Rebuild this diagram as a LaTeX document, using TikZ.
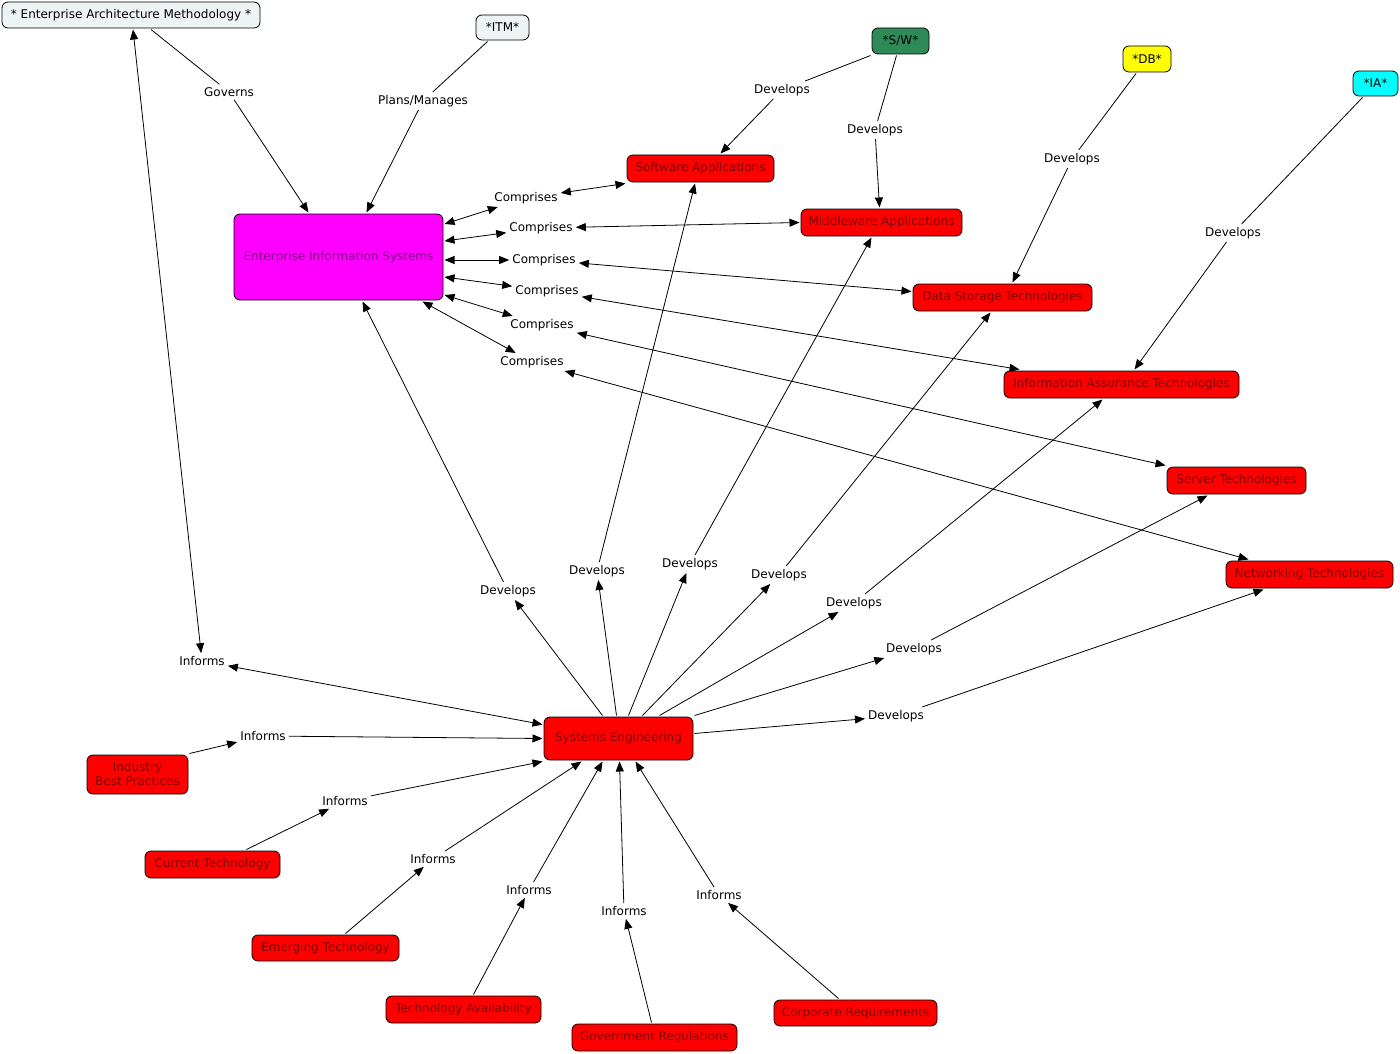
\documentclass[tikz,border=0pt]{standalone}
\usepackage{fontspec}
\setmainfont{DejaVu Sans}
\usetikzlibrary{arrows.meta}
\definecolor{eamfill}{HTML}{EEF4F4}
\definecolor{swfill}{HTML}{2E8B57}
\definecolor{dbfill}{HTML}{FFFF00}
\definecolor{iafill}{HTML}{00FFFF}
\definecolor{cmred}{HTML}{FF0000}
\definecolor{cmdkred}{HTML}{800000}
\definecolor{cmmag}{HTML}{FF00FF}
\definecolor{cmdkmag}{HTML}{800080}
\newcommand\cmfont{\fontsize{12}{15}\selectfont}
\tikzset{
  box/.style={draw=black, line width=0.8pt, rounded corners=6pt, font=\cmfont, inner xsep=2pt, inner ysep=2pt, outer sep=1.5pt, align=center},
  redbox/.style={box, fill=cmred, text=cmdkred},
  lab/.style={font=\cmfont, inner sep=3pt, text=black},
  ln/.style={line width=0.8pt},
  arr/.style={ln, -{Triangle[length=10pt,width=8pt]}},
  barr/.style={ln, {Triangle[length=10pt,width=8pt]}-{Triangle[length=10pt,width=8pt]}},
}
\begin{document}
\begin{tikzpicture}[x=1pt,y=-1pt]
\useasboundingbox (0,0) rectangle (1400,1054);
% top nodes
\node[box, fill=eamfill, minimum width=258pt, minimum height=26pt] (eam) at (131,15) {* Enterprise Architecture Methodology *};
\node[box, fill=eamfill, minimum width=53pt, minimum height=25pt] (itm) at (502.5,27.5) {*ITM*};
\node[box, fill=swfill, minimum width=57pt, minimum height=26pt] (sw) at (900.5,41) {*S/W*};
\node[box, fill=dbfill, minimum width=48pt, minimum height=26pt] (db) at (1147,59) {*DB*};
\node[box, fill=iafill, minimum width=45pt, minimum height=25pt] (ia) at (1375.5,83.5) {*IA*};
% main
\node[box, fill=cmmag, text=cmdkmag, minimum width=209pt, minimum height=86pt] (eis) at (338.5,257) {Enterprise Information Systems};
\node[redbox, minimum width=147pt, minimum height=27pt] (sa) at (700.5,168.5) {Software Applications};
\node[redbox, minimum width=161pt, minimum height=27pt] (mw) at (881.5,222.5) {Middleware Applications};
\node[redbox, minimum width=179pt, minimum height=27pt] (ds) at (1002.5,297.5) {Data Storage Technologies};
\node[redbox, minimum width=235pt, minimum height=27pt] (iat) at (1121.5,384.5) {Information Assurance Technologies};
\node[redbox, minimum width=139pt, minimum height=27pt] (srv) at (1236.5,480.5) {Server Technologies};
\node[redbox, minimum width=167pt, minimum height=27pt] (net) at (1309.5,574.5) {Networking Technologies};
\node[redbox, minimum width=149pt, minimum height=43pt] (se) at (618.5,738.5) {Systems Engineering};
\node[redbox, minimum width=101pt, minimum height=39pt, inner ysep=1pt] (ind) at (137.5,774.5) {Industry\\[-1pt]Best Practices};
\node[redbox, minimum width=135pt, minimum height=27pt] (ct) at (212.5,864.5) {Current Technology};
\node[redbox, minimum width=147pt, minimum height=26pt] (et) at (325.5,948) {Emerging Technology};
\node[redbox, minimum width=155pt, minimum height=27pt] (ta) at (463.5,1009.5) {Technology Availability};
\node[redbox, minimum width=165pt, minimum height=27pt] (govr) at (654.5,1037.5) {Government Regulations};
\node[redbox, minimum width=163pt, minimum height=26pt] (corp) at (855.5,1013) {Corporate Requirements};
% labels
\node[lab] (govl) at (229,92) {Governs};
\node[lab] (plan) at (423,101) {Plans/Manages};
\node[lab] (swd1) at (782,90) {Develops};
\node[lab] (swd2) at (875,130) {Develops};
\node[lab] (dbd) at (1072,159) {Develops};
\node[lab] (iad) at (1233,233) {Develops};
\node[lab] (c1) at (526,198) {Comprises};
\node[lab] (c2) at (541,228) {Comprises};
\node[lab] (c3) at (544,260) {Comprises};
\node[lab] (c4) at (547,291) {Comprises};
\node[lab] (c5) at (542,325) {Comprises};
\node[lab] (c6) at (532,362) {Comprises};
\node[lab] (d1) at (508,591) {Develops};
\node[lab] (d2) at (597,571) {Develops};
\node[lab] (d3) at (690,564) {Develops};
\node[lab] (d4) at (779,575) {Develops};
\node[lab] (d5) at (854,603) {Develops};
\node[lab] (d6) at (914,649) {Develops};
\node[lab] (d7) at (896,716) {Develops};
\node[lab] (i1) at (202,661) {Informs};
\node[lab] (i2) at (263,736) {Informs};
\node[lab] (i3) at (345,801) {Informs};
\node[lab] (i4) at (433,859) {Informs};
\node[lab] (i5) at (529,890) {Informs};
\node[lab] (i6) at (624,911) {Informs};
\node[lab] (i7) at (719,895) {Informs};
% connectors: top
\draw[ln] ([xshift=20pt]eam.south) -- (govl);
\draw[arr] (govl) -- ([xshift=-30pt]eis.north);
\draw[ln] ([xshift=-15pt]itm.south) -- (plan);
\draw[arr] (plan) -- ([xshift=28pt]eis.north);
\draw[ln] (sw.south west) -- (swd1);
\draw[arr] (swd1) -- ([xshift=20pt]sa.north);
\draw[ln] ([xshift=-4pt]sw.south) -- (swd2);
\draw[arr] (swd2) -- ([xshift=-2pt]mw.north);
\draw[ln] ([xshift=-11pt]db.south) -- (dbd);
\draw[arr] (dbd) -- ([xshift=10pt]ds.north);
\draw[ln] ([xshift=-13pt]ia.south) -- (iad);
\draw[arr] (iad) -- ([xshift=13pt]iat.north);
% comprises
\draw[barr] ([yshift=33pt]eis.east) -- (c1);
\draw[barr] (c1) -- (sa.south west);
\draw[barr] ([yshift=16pt]eis.east) -- (c2);
\draw[barr] (c2) -- (mw.west);
\draw[barr] ([yshift=-3pt]eis.east) -- (c3);
\draw[barr] (c3) -- ([yshift=6pt]ds.west);
\draw[barr] ([yshift=-20pt]eis.east) -- (c4);
\draw[barr] (c4) -- ([xshift=17pt]iat.north west);
\draw[barr] ([yshift=-38pt]eis.east) -- (c5);
\draw[barr] (c5) -- (srv.north west);
\draw[barr] ([xshift=-22pt]eis.south east) -- (c6);
\draw[barr] (c6) -- ([xshift=24pt]net.north west);
% develops from SE
\draw[arr] ([xshift=-16pt]se.north) -- (d1);
\draw[arr] (d1) -- ([xshift=24pt]eis.south);
\draw[arr] ([xshift=-2pt]se.north) -- (d2);
\draw[arr] (d2) -- ([xshift=-5.5pt]sa.south);
\draw[arr] ([xshift=10pt]se.north) -- (d3);
\draw[arr] (d3) -- ([xshift=-10pt]mw.south);
\draw[arr] ([xshift=24pt]se.north) -- (d4);
\draw[arr] (d4) -- ([xshift=-12pt]ds.south);
\draw[arr] ([xshift=41pt]se.north) -- (d5);
\draw[arr] (d5) -- ([xshift=-19pt]iat.south);
\draw[arr] (se.north east) -- (d6);
\draw[arr] (d6) -- ([xshift=-29pt]srv.south);
\draw[arr] ([yshift=5pt]se.east) -- (d7);
\draw[arr] (d7) -- ([xshift=-46pt]net.south);
% informs
\draw[barr] (i1) -- ([xshift=2pt]eam.south);
\draw[barr] (i1) -- ([yshift=14pt]se.west);
\draw[arr] (ind.north east) -- (i2);
\draw[arr] (i2) -- (se.west);
\draw[arr] ([xshift=34pt]ct.north) -- (i3);
\draw[arr] (i3) -- (se.south west);
\draw[arr] ([xshift=20pt]et.north) -- (i4);
\draw[arr] (i4) -- ([xshift=-37pt]se.south);
\draw[arr] ([xshift=10pt]ta.north) -- (i5);
\draw[arr] (i5) -- ([xshift=-16pt]se.south);
\draw[arr] ([xshift=-3pt]govr.north) -- (i6);
\draw[arr] (i6) -- ([xshift=1pt]se.south);
\draw[arr] ([xshift=-17pt]corp.north) -- (i7);
\draw[arr] (i7) -- ([xshift=17pt]se.south);
\end{tikzpicture}
\end{document}
